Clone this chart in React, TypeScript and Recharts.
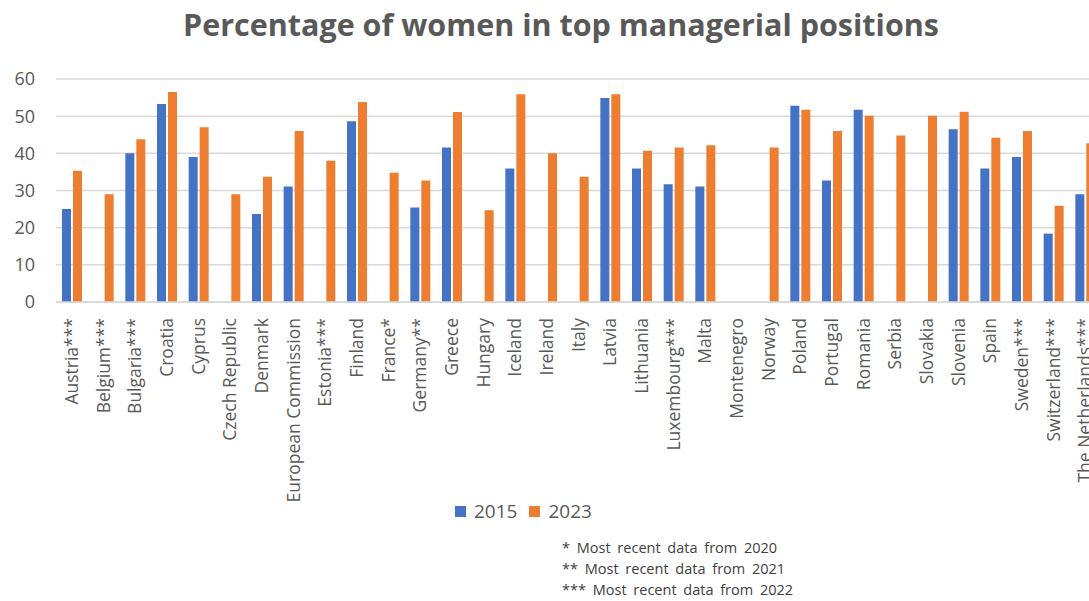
import React from 'react';
import { BarChart, Bar, XAxis, YAxis, CartesianGrid } from 'recharts';

// Countries / bodies along the x axis
const categories = [
  'Austria***', 'Belgium***', 'Bulgaria***', 'Croatia', 'Cyprus', 'Czech Republic',
  'Denmark', 'European Commission', 'Estonia***', 'Finland', 'France*', 'Germany**',
  'Greece', 'Hungary', 'Iceland', 'Ireland', 'Italy', 'Latvia', 'Lithuania',
  'Luxembourg***', 'Malta', 'Montenegro', 'Norway', 'Poland', 'Portugal', 'Romania',
  'Serbia', 'Slovakia', 'Slovenia', 'Spain', 'Sweden***', 'Switzerland***',
  'The Netherlands***',
];

// % of women in top managerial positions (null = no value shown)
const values2015: (number | null)[] = [
  25, null, 40, 53.3, 39, null,
  23.7, 31.1, null, 48.6, null, 25.4,
  41.6, null, 35.9, null, null, 54.9, 35.9,
  31.7, 31.1, null, null, 52.8, 32.7, 51.7,
  null, null, 46.5, 35.9, 39, 18.4,
  29,
];

const values2023: (number | null)[] = [
  35.3, 29, 43.8, 56.5, 47, 29,
  33.7, 46, 38, 53.8, 34.8, 32.7,
  51.1, 24.7, 55.9, 40, 33.7, 55.9, 40.7,
  41.6, 42.2, null, 41.6, 51.7, 46, 50.1,
  44.8, 50.1, 51.2, 44.2, 46, 25.9,
  42.7,
];

const yTicks = [0, 10, 20, 30, 40, 50, 60];

const footnotes = [
  '* Most recent data from 2020',
  '** Most recent data from 2021',
  '*** Most recent data from 2022',
];

const chartData = categories.map((name, i) => ({
  name,
  y2015: values2015[i],
  y2023: values2023[i],
}));

const FONT = '"Open Sans", sans-serif';
const GREY = '#595959';
const BLUE = '#4472C4';
const ORANGE = '#ED7D31';

// rotated category label, reads bottom-to-top and ends just under the axis
function CategoryTick(props: any) {
  const { x, y, payload } = props;
  return (
    <text
      x={x}
      y={y}
      transform={`rotate(-90 ${x} ${y})`}
      textAnchor="end"
      dy="0.36em"
      fill={GREY}
      fontSize={17.5}
      fontFamily={FONT}
    >
      {payload.value}
    </text>
  );
}

export default function App() {
  return (
    <div
      style={{
        position: 'fixed',
        left: 0,
        top: 0,
        width: 1089,
        height: 601,
        overflow: 'hidden',
        background: '#ffffff',
        fontFamily: FONT,
      }}
    >
      <div
        style={{
          position: 'absolute',
          left: 0,
          top: 3,
          width: 1122,
          textAlign: 'center',
          fontSize: 30.5,
          fontWeight: 700,
          color: GREY,
          whiteSpace: 'nowrap',
        }}
      >
        Percentage of women in top managerial positions
      </div>

      <BarChart
        width={1101}
        height={601}
        data={chartData}
        margin={{ top: 79, right: 0, left: 0, bottom: 0 }}
        barSize={9}
        barGap={2}
      >
        <CartesianGrid vertical={false} stroke="#d9d9d9" strokeWidth={1.5} />
        <XAxis
          dataKey="name"
          interval={0}
          height={299}
          tick={<CategoryTick />}
          tickLine={false}
          tickMargin={10}
          axisLine={{ stroke: '#d9d9d9', strokeWidth: 1.5 }}
        />
        <YAxis
          width={56}
          domain={[0, 60]}
          ticks={yTicks}
          interval={0}
          axisLine={false}
          tickLine={false}
          tickSize={0}
          tickMargin={21}
          tick={{ fill: GREY, fontSize: 18, fontFamily: FONT }}
        />
        <Bar dataKey="y2015" fill={BLUE} isAnimationActive={false} />
        <Bar dataKey="y2023" fill={ORANGE} isAnimationActive={false} />
      </BarChart>

      <div
        style={{
          position: 'absolute',
          left: 455,
          top: 498,
          display: 'flex',
          alignItems: 'center',
          fontSize: 19,
          color: GREY,
        }}
      >
        <span style={{ width: 11, height: 11, background: BLUE, marginRight: 8 }} />
        <span style={{ marginRight: 12 }}>2015</span>
        <span style={{ width: 11, height: 11, background: ORANGE, marginRight: 8 }} />
        <span>2023</span>
      </div>

      <div
        style={{
          position: 'absolute',
          left: 562,
          top: 537,
          fontSize: 14.5,
          lineHeight: '21px',
          wordSpacing: 3,
          color: '#404040',
          whiteSpace: 'nowrap',
        }}
      >
        {footnotes.map((f) => (
          <div key={f}>{f}</div>
        ))}
      </div>
    </div>
  );
}
